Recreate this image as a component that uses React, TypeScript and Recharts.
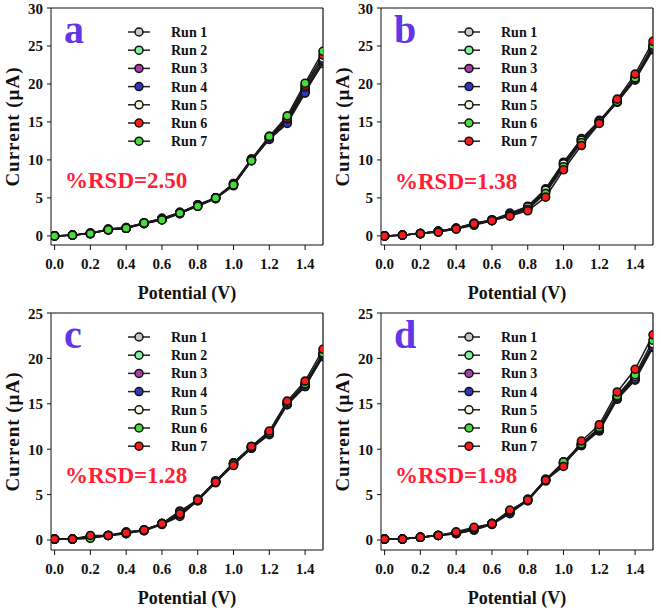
import React from 'react'
import { CartesianGrid, Legend, Line, LineChart, ReferenceLine, XAxis, YAxis } from 'recharts'

// potential (V)
const potential = [0, 0.1, 0.2, 0.3, 0.4, 0.5, 0.6, 0.7, 0.8, 0.9, 1.0, 1.1, 1.2, 1.3, 1.4, 1.5]
const runNames = ['Run 1', 'Run 2', 'Run 3', 'Run 4', 'Run 5', 'Run 6', 'Run 7']
const xTicks = [0, 0.2, 0.4, 0.6, 0.8, 1.0, 1.2, 1.4]

// panel a, current (µA)
const a1 = [0, 0.1, 0.3, 0.8, 1.0, 1.6, 2.1, 2.9, 4.0, 4.9, 6.7, 9.9, 12.8, 15.0, 19.0, 22.7]
const a2 = [0, 0.1, 0.3, 0.9, 1.1, 1.7, 2.2, 3.0, 4.1, 5.0, 6.9, 10.1, 13.0, 15.2, 19.3, 23.0]
const a3 = [0, 0.1, 0.4, 0.8, 1.0, 1.7, 2.3, 3.1, 4.0, 5.0, 6.8, 10.0, 12.9, 15.1, 19.2, 22.9]
const a4 = [0, 0.1, 0.3, 0.8, 1.0, 1.6, 2.2, 3.0, 3.9, 4.9, 6.6, 9.9, 12.7, 14.8, 18.8, 23.1]
const a5 = [0, 0.1, 0.3, 0.9, 1.1, 1.7, 2.3, 3.1, 4.1, 5.0, 6.9, 10.1, 13.1, 15.4, 19.6, 23.4]
const a6 = [0, 0.1, 0.3, 0.8, 1.0, 1.7, 2.2, 3.0, 4.0, 5.0, 6.8, 10.0, 13.0, 15.5, 19.8, 23.8]
const a7 = [0, 0.1, 0.3, 0.8, 1.0, 1.7, 2.1, 3.0, 3.9, 5.0, 6.7, 9.9, 13.1, 15.8, 20.1, 24.3]

// panel b
const b1 = [0, 0.1, 0.3, 0.6, 1.0, 1.6, 2.1, 3.0, 3.9, 6.2, 9.7, 12.7, 15.2, 17.8, 20.8, 24.8]
const b2 = [0, 0.1, 0.3, 0.6, 1.0, 1.7, 2.1, 2.9, 3.8, 6.1, 9.6, 12.8, 15.1, 17.7, 20.6, 24.6]
const b3 = [0, 0.1, 0.3, 0.5, 0.9, 1.4, 2.0, 2.8, 3.7, 5.9, 9.4, 12.5, 15.0, 17.6, 20.5, 24.5]
const b4 = [0, 0.1, 0.3, 0.6, 1.0, 1.5, 2.1, 2.8, 3.6, 5.8, 9.3, 12.4, 14.9, 17.6, 20.7, 24.7]
const b5 = [0, 0.1, 0.3, 0.6, 1.0, 1.6, 2.1, 2.9, 3.8, 6.0, 9.5, 12.6, 15.1, 17.8, 20.9, 25.0]
const b6 = [0, 0.1, 0.3, 0.6, 1.0, 1.5, 2.0, 2.7, 3.5, 5.6, 9.1, 12.3, 14.9, 17.7, 20.8, 25.1]
const b7 = [0, 0.1, 0.3, 0.5, 0.9, 1.6, 2.0, 2.6, 3.3, 5.1, 8.7, 11.9, 14.8, 18.0, 21.3, 25.6]

// panel c
const c1 = [0.1, 0.1, 0.4, 0.5, 0.8, 1.1, 1.8, 3.2, 4.4, 6.4, 8.5, 10.3, 11.9, 15.1, 17.1, 20.4]
const c2 = [0.1, 0.1, 0.2, 0.5, 0.7, 1.1, 1.8, 2.7, 4.3, 6.3, 8.3, 10.1, 11.7, 14.9, 16.9, 20.2]
const c3 = [0.1, 0.1, 0.3, 0.5, 0.8, 1.0, 1.7, 2.6, 4.4, 6.4, 8.4, 10.2, 11.8, 15.0, 17.0, 20.3]
const c4 = [0.1, 0.1, 0.4, 0.5, 0.7, 1.1, 1.8, 2.8, 4.4, 6.4, 8.3, 10.1, 11.6, 14.9, 16.9, 20.3]
const c5 = [0.1, 0.1, 0.4, 0.5, 0.8, 1.1, 1.8, 3.0, 4.5, 6.5, 8.5, 10.3, 11.9, 15.2, 17.2, 20.5]
const c6 = [0.1, 0.1, 0.2, 0.5, 0.9, 1.1, 1.8, 3.1, 4.4, 6.5, 8.4, 10.2, 11.8, 15.1, 17.2, 20.6]
const c7 = [0.1, 0.1, 0.5, 0.5, 0.8, 1.1, 1.8, 2.9, 4.4, 6.4, 8.2, 10.3, 12.0, 15.3, 17.5, 21.0]

// panel d
const d1 = [0.1, 0.1, 0.3, 0.5, 0.7, 1.1, 1.8, 3.0, 4.4, 6.6, 8.5, 10.4, 12.0, 15.5, 17.6, 21.2]
const d2 = [0.1, 0.1, 0.3, 0.5, 0.8, 1.2, 1.8, 3.1, 4.4, 6.6, 8.6, 10.5, 12.1, 15.6, 17.8, 21.4]
const d3 = [0.1, 0.1, 0.3, 0.5, 0.8, 1.2, 1.8, 3.0, 4.3, 6.5, 8.4, 10.4, 12.1, 15.7, 17.9, 21.5]
const d4 = [0.1, 0.1, 0.3, 0.5, 0.7, 1.1, 1.7, 2.9, 4.4, 6.6, 8.3, 10.5, 12.2, 15.6, 17.7, 21.3]
const d5 = [0.1, 0.1, 0.3, 0.5, 0.8, 1.2, 1.8, 3.1, 4.5, 6.7, 8.5, 10.6, 12.3, 15.8, 18.0, 21.6]
const d6 = [0.1, 0.1, 0.3, 0.5, 0.8, 1.3, 1.8, 3.2, 4.4, 6.6, 8.6, 10.6, 12.4, 15.9, 18.2, 22.0]
const d7 = [0.1, 0.1, 0.3, 0.5, 0.9, 1.4, 1.8, 3.3, 4.4, 6.6, 8.1, 10.9, 12.7, 16.3, 18.8, 22.6]

const fillsA = ['#c8c8c8', '#7ef29a', '#a83cb0', '#3038c0', '#f4f4dc', '#ff1a1a', '#44e03a']
const fillsB = ['#c8c8c8', '#7ef29a', '#a83cb0', '#3038c0', '#f4f4dc', '#44e03a', '#ff1a1a']

const font = "'Liberation Serif', 'Times New Roman', serif"

type PanelProps = {
    letter: string
    rsd: string
    runs: number[][]
    fills: string[]
    yMax: number
    yMin: number
    yTicks: number[]
    rsdY: number
    left: number
    top: number
}

const RunLegend = ({ fills }: { fills: string[] }) => (
    <svg width={110} height={132}>
        {runNames.map((name, i) => (
            <g key={name} transform={`translate(0, ${i * 18.2 + 9})`}>
                <line x1={2} x2={24} y1={0} y2={0} stroke='#222' strokeWidth={1.5} />
                <circle cx={13} cy={0} r={4} fill={fills[i]} stroke='#111' strokeWidth={1.5} />
                <text x={45} y={5} fontSize={14} fontWeight='bold' style={{ fontFamily: font }} fill='#111'>{name}</text>
            </g>
        ))}
    </svg>
)

const Panel = ({ letter, rsd, runs, fills, yMax, yMin, yTicks, rsdY, left, top }: PanelProps) => {
    const data = potential.map((x, i) => {
        const row: Record<string, number> = { x }
        runs.forEach((r, k) => { row['r' + (k + 1)] = r[i] })
        return row
    })
    const tickStyle = { fill: '#111', fontSize: 15, fontWeight: 'bold', style: { fontFamily: font } }
    return (
        <div style={{ position: 'absolute', left, top, width: 330, height: 305, fontFamily: font }}>
            <LineChart width={330} height={305} data={data} margin={{ top: 8, right: 7, left: 0, bottom: 0 }}>
                <CartesianGrid stroke='none' />
                <XAxis
                    dataKey='x'
                    type='number'
                    domain={[-0.02, 1.5]}
                    ticks={xTicks}
                    allowDataOverflow
                    tickFormatter={(v: number) => v.toFixed(1)}
                    tick={tickStyle}
                    tickSize={5}
                    tickMargin={8}
                    height={60}
                    stroke='#111'
                    label={{ value: 'Potential (V)', position: 'insideBottom', offset: 6, style: { fill: '#111', fontSize: 18, fontWeight: 'bold', fontFamily: font } }}
                />
                <YAxis
                    type='number'
                    domain={[yMin, yMax]}
                    ticks={yTicks}
                    allowDataOverflow
                    tick={tickStyle}
                    tickSize={4}
                    tickMargin={4}
                    width={51}
                    stroke='#111'
                    label={{ value: 'Current (µA)', angle: -90, position: 'insideLeft', offset: 12, style: { textAnchor: 'middle', fill: '#111', fontSize: 19, fontWeight: 'bold', letterSpacing: 1, fontFamily: font } }}
                />
                <ReferenceLine y={yMax} stroke='#111' strokeWidth={1.2} />
                <ReferenceLine x={1.5} stroke='#111' strokeWidth={1.2} />
                <Legend
                    layout='vertical'
                    align='center'
                    verticalAlign='middle'
                    wrapperStyle={{ left: 126, top: 23, width: 110, height: 132 }}
                    content={() => <RunLegend fills={fills} />}
                />
                {runs.map((_, k) => (
                    <Line
                        key={k}
                        dataKey={'r' + (k + 1)}
                        name={runNames[k]}
                        stroke='#1a1a1a'
                        strokeWidth={1.5}
                        dot={{ r: 4, fill: fills[k], stroke: '#111', strokeWidth: 1.6 }}
                        isAnimationActive={false}
                    />
                ))}
            </LineChart>
            <svg width={330} height={305} style={{ position: 'absolute', left: 0, top: 0, pointerEvents: 'none', fontFamily: font }}>
                <text x={64} y={43} fontSize={40} fontWeight='bold' fill='#6236e6'>{letter}</text>
                <text x={65} y={rsdY} fontSize={23} fontWeight='bold' fill='#ff2036'>{rsd}</text>
            </svg>
        </div>
    )
}

export default function App() {
    return (
        <div style={{ position: 'absolute', left: 0, top: 0, width: 661, height: 610, background: '#fff' }}>
            <Panel letter='a' rsd='%RSD=2.50' runs={[a1, a2, a3, a4, a5, a6, a7]} fills={fillsA}
                yMax={30} yMin={-1.2} yTicks={[0, 5, 10, 15, 20, 25, 30]} rsdY={188} left={0} top={0} />
            <Panel letter='b' rsd='%RSD=1.38' runs={[b1, b2, b3, b4, b5, b6, b7]} fills={fillsB}
                yMax={30} yMin={-1.2} yTicks={[0, 5, 10, 15, 20, 25, 30]} rsdY={189} left={330} top={0} />
            <Panel letter='c' rsd='%RSD=1.28' runs={[c1, c2, c3, c4, c5, c6, c7]} fills={fillsB}
                yMax={25} yMin={-1.1} yTicks={[0, 5, 10, 15, 20, 25]} rsdY={178} left={0} top={305} />
            <Panel letter='d' rsd='%RSD=1.98' runs={[d1, d2, d3, d4, d5, d6, d7]} fills={fillsB}
                yMax={25} yMin={-1.1} yTicks={[0, 5, 10, 15, 20, 25]} rsdY={178} left={330} top={305} />
        </div>
    )
}
